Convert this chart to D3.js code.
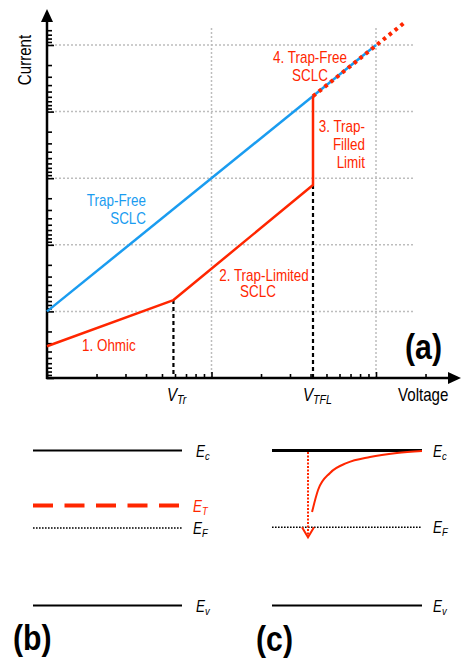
<!DOCTYPE html>
<html>
<head>
<meta charset="utf-8">
<script src="https://d3js.org/d3.v7.min.js"></script>
<style>
  body { margin: 0; background: #fff; }
  text { font-family: "Liberation Sans", Arial, sans-serif; }
</style>
</head>
<body>
<script>
// Set Dimensions
const width  = 461;
const height = 658;
const red  = "#ff2600";
const blue = "#1a9cf0";
const narrow = 0.84;   // the original uses a condensed face

// (a) current-voltage curve (log-log)
const ohmicV     = [1, 5.87];
const ohmicJ     = [3.0, 14.8];
const trapLimV   = [5.87, 41.4];
const trapLimJ   = [14.8, 790];
const trapFillV  = [41.4, 41.4];
const trapFillJ  = [790, 1.7e4];
const trapFreeV  = [1, 100];
const trapFreeJ  = [10, 1e5];
const trapFreeExtV = [41.4, 150];
const trapFreeExtJ = [1.7e4, 2.2e5];
const vTr  = 5.87;
const vTfl = 41.4;
const gridV = [10, 100];
const gridJ = [1e1, 1e2, 1e3, 1e4, 1e5];
const extraTicksJ = [0.6, 0.7, 0.8, 0.9];
const extraTicksV = [200];

// (b) and (c) band diagrams, energy normalised Ev = 0 .. Ec = 1
const bandB = [1, 0.645, 0.5, 0];   // Ec, ET, EF, Ev
const bandC = [1, 0.505, 0];        // Ec, EF, Ev
const trapX = [0.267, 0.307, 0.387, 0.5, 0.653, 0.833, 1];
const trapE = [0.603, 0.745, 0.855, 0.92, 0.958, 0.984, 0.997];
const fillX = 0.24;
const fillE = [0.99, 0.44];

const svg = d3.select("body")
              .append("svg")
              .attr("width", width)
              .attr("height", height);

// scales
const x = d3.scaleLog().domain([1, 100]).range([47, 376]);
const y = d3.scaleLog().domain([1, 1e5]).range([378, 45]);
// the tick marks of the original run the other way round inside each decade
const yTick = d3.scaleLog().domain([1, 1e5]).range([45, 378]);

// grid
const grid = svg.append("g")
   .attr("stroke", "#bdbdbd")
   .attr("stroke-width", 1.5)
   .attr("stroke-dasharray", "2 2");
grid.selectAll(".h").data(gridJ).join("line")
   .attr("x1", x(1)).attr("x2", x(172))
   .attr("y1", d => y(d)).attr("y2", d => y(d));
grid.selectAll(".v").data(gridV).join("line")
   .attr("x1", d => x(d)).attr("x2", d => x(d))
   .attr("y1", y(1)).attr("y2", y(1.9e5));

// y ticks
const yAx = svg.append("g")
   .attr("transform", `translate(${x(1)},0)`)
   .call(d3.axisRight(yTick)
           .tickValues(yTick.ticks().concat(extraTicksJ))
           .tickSize(5)
           .tickFormat(""));
yAx.select(".domain").remove();
yAx.selectAll(".tick line")
   .attr("stroke-width", 1.6)
   .attr("x2", d => Math.abs(Math.log10(d) % 1) < 1e-6 ? 7 : 5);

// x ticks
const xAx = svg.append("g")
   .attr("transform", `translate(0,${y(1)})`)
   .call(d3.axisTop(x)
           .tickValues(x.ticks().concat(extraTicksV))
           .tickSize(4)
           .tickFormat(""));
xAx.select(".domain").remove();
xAx.selectAll(".tick line")
   .attr("stroke-width", 1.6)
   .attr("y2", d => Math.abs(Math.log10(d) % 1) < 1e-6 ? -6 : -4);

// axis lines with arrows
svg.append("line")
   .attr("x1", x(1)).attr("x2", x(1))
   .attr("y1", y(1) + 1).attr("y2", 20)
   .attr("stroke", "#000").attr("stroke-width", 2.5);
svg.append("path")
   .attr("d", `M${x(1) - 6},22 L${x(1)},9 L${x(1) + 6},22 Z`)
   .attr("fill", "#000");
svg.append("line")
   .attr("x1", x(1) - 1).attr("x2", 450)
   .attr("y1", y(1)).attr("y2", y(1))
   .attr("stroke", "#000").attr("stroke-width", 2.5);
svg.append("path")
   .attr("d", `M448,${y(1) - 6} L461,${y(1)} L448,${y(1) + 6} Z`)
   .attr("fill", "#000");

// dashed drop lines
svg.selectAll(".drop").data([[vTr, 14.8], [vTfl, 790]]).join("line")
   .attr("x1", d => x(d[0])).attr("x2", d => x(d[0]))
   .attr("y1", d => y(d[1])).attr("y2", y(1))
   .attr("stroke", "#000").attr("stroke-width", 2.2)
   .attr("stroke-dasharray", "4 3");

const line = d3.line()
   .x(d => x(d[0]))
   .y(d => y(d[1]));
const pairs = (a, b) => a.map((v, i) => [v, b[i]]);

// trap-free SCLC (blue)
svg.append("path")
   .datum(pairs(trapFreeV, trapFreeJ))
   .attr("fill", "none").attr("stroke", blue).attr("stroke-width", 2.5)
   .attr("d", line);

// red curve
svg.append("path")
   .datum(pairs(ohmicV, ohmicJ).concat(pairs(trapLimV, trapLimJ).slice(1), pairs(trapFillV, trapFillJ).slice(1)))
   .attr("fill", "none").attr("stroke", red).attr("stroke-width", 2.5)
   .attr("stroke-linejoin", "round")
   .attr("d", line);

svg.append("path")
   .datum(pairs(trapFreeExtV, trapFreeExtJ))
   .attr("fill", "none").attr("stroke", red).attr("stroke-width", 4)
   .attr("stroke-dasharray", "3.5 4")
   .attr("d", line);

// labels
function label(t, xx, yy, opts) {
  opts = opts || {};
  return svg.append("text")
     .attr("transform", `translate(${xx},${yy}) scale(${narrow},1)`)
     .attr("font-size", opts.size || 16)
     .attr("fill", opts.color || "#000")
     .attr("text-anchor", opts.anchor || "start")
     .attr("font-weight", opts.weight || "normal")
     .attr("font-style", opts.style || "normal")
     .text(t);
}

svg.append("text")
   .attr("transform", `translate(30.5,60) rotate(-90) scale(${narrow},1)`)
   .attr("text-anchor", "middle")
   .attr("font-size", 18)
   .text("Current");
label("Voltage", 398, 401, {size: 18});

label("Trap-Free", 146, 206, {color: blue, anchor: "end"});
label("SCLC", 146, 224, {color: blue, anchor: "end"});
label("1. Ohmic", 82, 351, {color: red});
label("2. Trap-Limited", 264, 281, {color: red, anchor: "middle"});
label("SCLC", 258, 297, {color: red, anchor: "middle"});
label("3. Trap-", 365, 132, {color: red, anchor: "end"});
label("Filled", 365, 150, {color: red, anchor: "end"});
label("Limit", 365, 168, {color: red, anchor: "end"});
label("4. Trap-Free", 310, 63, {color: red, anchor: "middle"});
label("SCLC", 310, 81, {color: red, anchor: "middle"});

function sub(base, s, xx, yy, size, color) {
  const t = label("", xx, yy, {size: size, color: color, style: "italic"});
  t.append("tspan").text(base);
  t.append("tspan").attr("font-size", size * 0.7).attr("dy", 3).text(s);
  return t;
}
sub("V", "Tr", 167, 401, 18);
sub("V", "TFL", 303, 401, 18);

label("(a)", 405, 359, {size: 36, weight: "bold"});

// band diagrams
const e = d3.scaleLinear().domain([0, 1]).range([605.5, 450.5]);
const pb = d3.scaleLinear().domain([0, 1]).range([33, 182]);
const pc = d3.scaleLinear().domain([0, 1]).range([272, 422]);

// (b)
const bStyles = [
  {stroke: "#000", w: 2.2, dash: null},
  {stroke: red, w: 4, dash: "20 11.5"},
  {stroke: "#000", w: 1.6, dash: "1.6 1.4"},
  {stroke: "#000", w: 2.2, dash: null}
];
svg.selectAll(".bandB").data(bandB).join("line")
   .attr("x1", pb(0)).attr("x2", pb(1))
   .attr("y1", d => e(d)).attr("y2", d => e(d))
   .attr("stroke", (d, i) => bStyles[i].stroke)
   .attr("stroke-width", (d, i) => bStyles[i].w)
   .attr("stroke-dasharray", (d, i) => bStyles[i].dash);

const bNames = ["c", "T", "F", "v"];
bandB.forEach((d, i) => {
  sub("E", bNames[i], i === 0 || i === 3 ? 196 : 193, e(d) + 6, 16, i === 1 ? red : "#000");
});
label("(b)", 13, 650, {size: 36, weight: "bold"});

// (c)
const cStyles = [
  {w: 3, dash: null},
  {w: 1.6, dash: "1.6 1.4"},
  {w: 2.2, dash: null}
];
svg.selectAll(".bandC").data(bandC).join("line")
   .attr("x1", pc(0)).attr("x2", pc(1))
   .attr("y1", d => e(d)).attr("y2", d => e(d))
   .attr("stroke", "#000")
   .attr("stroke-width", (d, i) => cStyles[i].w)
   .attr("stroke-dasharray", (d, i) => cStyles[i].dash);

const cNames = ["c", "F", "v"];
bandC.forEach((d, i) => {
  sub("E", cNames[i], 433, e(d) + 6, 16, "#000");
});

svg.append("path")
   .datum(pairs(trapX, trapE))
   .attr("fill", "none").attr("stroke", red).attr("stroke-width", 2)
   .attr("d", d3.line().x(d => pc(d[0])).y(d => e(d[1])).curve(d3.curveMonotoneX));

svg.append("line")
   .attr("x1", pc(fillX)).attr("x2", pc(fillX))
   .attr("y1", e(fillE[0])).attr("y2", e(fillE[1]) - 1)
   .attr("stroke", red).attr("stroke-width", 2)
   .attr("stroke-dasharray", "2 1.5");
svg.append("path")
   .attr("d", `M${pc(fillX) - 6},${e(fillE[1]) - 10} L${pc(fillX)},${e(fillE[1])} L${pc(fillX) + 6},${e(fillE[1]) - 10}`)
   .attr("fill", "none").attr("stroke", red).attr("stroke-width", 2);

label("(c)", 256, 651, {size: 36, weight: "bold"});
</script>
</body>
</html>
